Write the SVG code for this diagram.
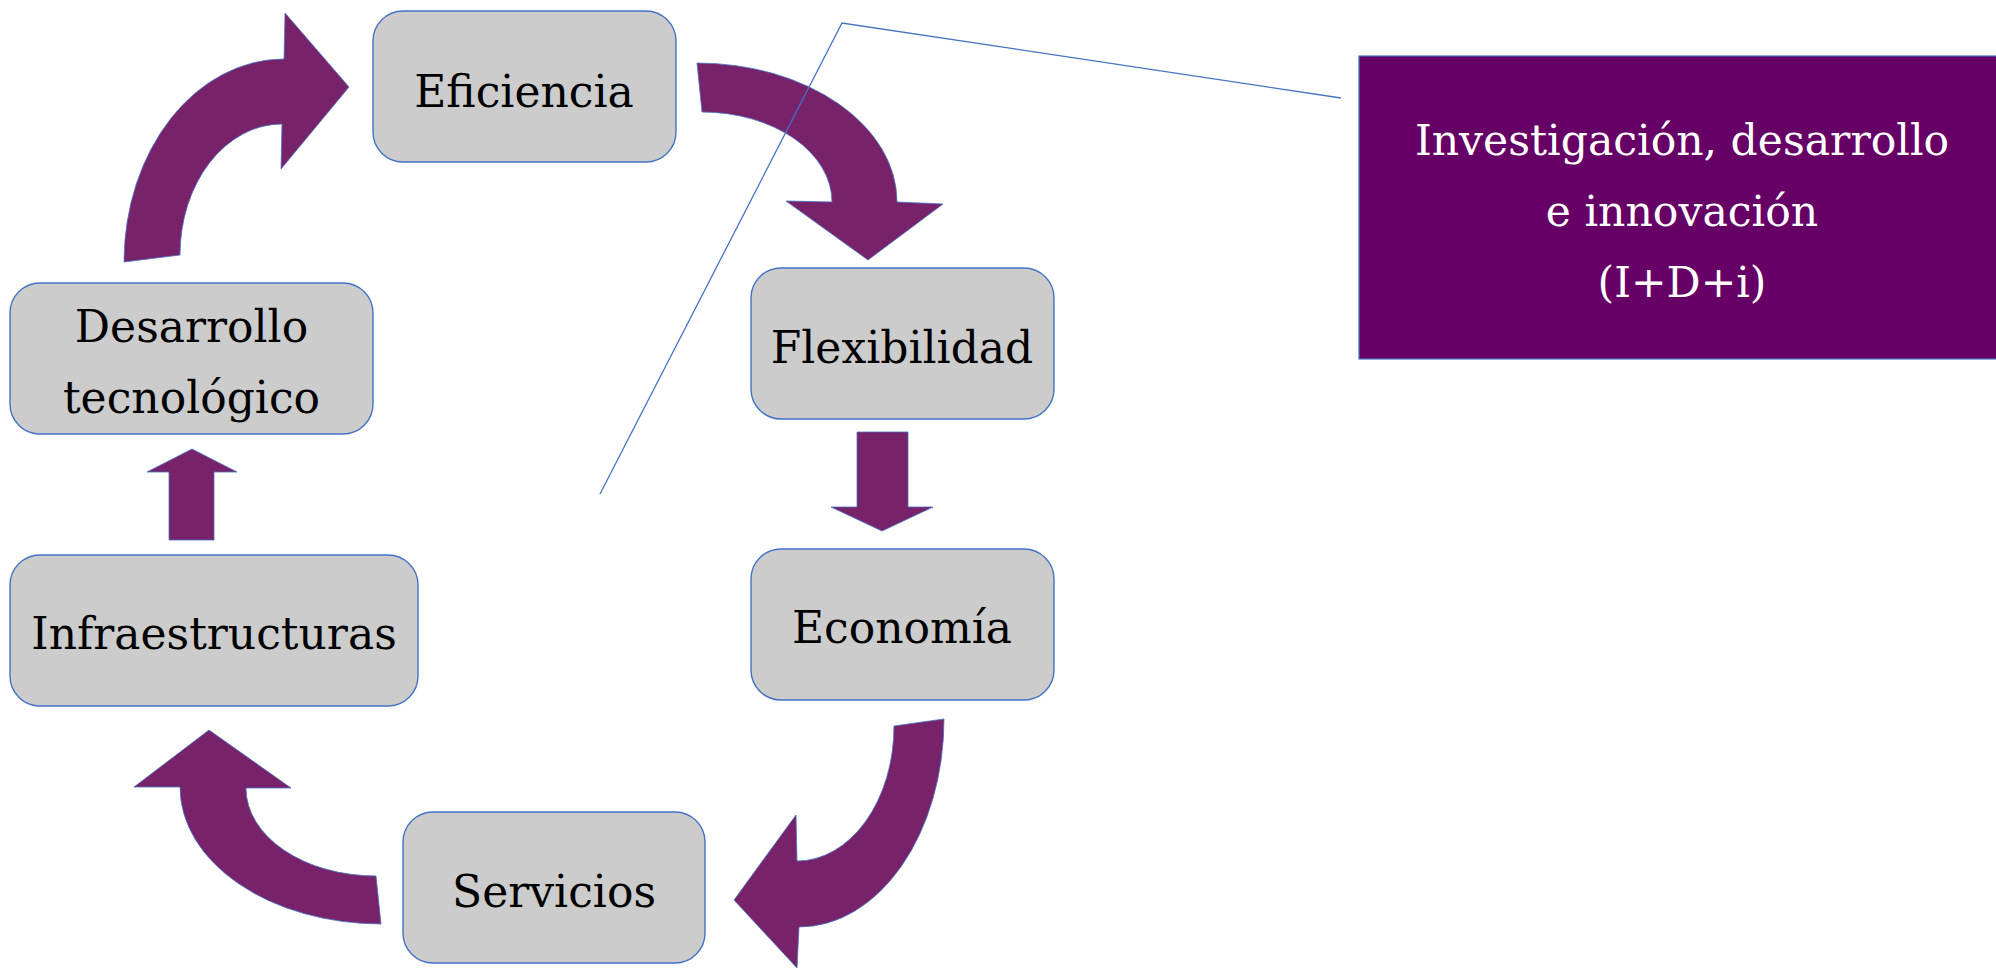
<svg xmlns="http://www.w3.org/2000/svg" width="1996" height="969" viewBox="0 0 1996 969">
<style>
.box{fill:#CCCCCC;stroke:#4472C4;stroke-width:1.4}
.lbl{font-family:"DejaVu Serif",serif;font-size:44px;fill:#000;text-anchor:middle}
.arr{fill:#78226A;stroke:#4472C4;stroke-width:0.8}
.call{fill:#660066;stroke:#4472C4;stroke-width:1.2}
.ctext{font-family:"DejaVu Serif",serif;font-size:42.5px;fill:#FFFFFF;text-anchor:middle}
.line{fill:none;stroke:#4472C4;stroke-width:1.3}
</style>
<rect width="1996" height="969" fill="#FFFFFF"/>
<g id="connectors">
<path class="arr" d="M124,262 A160 203 0 0 1 284,59 L285,13 L349,87 L281,169 L282,124 A102 131 0 0 0 180,255 Z"/>
<path class="arr" d="M697,63 A200 139 0 0 1 897,202 L943,204 L868,260 L786,201 L832,202 A130 90 0 0 0 702,112 Z"/>
<path class="arr" d="M857,432 L908,432 L908,507 L933,507 L882,531 L831,507 L857,507 Z"/>
<path class="arr" d="M944,719 A145 208 0 0 1 799,927 L797,968 L734,900 L796,815 L797,861 A97 135 0 0 0 894,726 Z"/>
<path class="arr" d="M381,924 A201 137 0 0 1 180,787 L134,787 L209,730 L291,788 L246,788 A130 88 0 0 0 376,876 Z"/>
<path class="arr" d="M169,540 L214,540 L214,472 L237,472 L192,449 L147,472 L169,472 Z"/>
<polyline class="line" points="1341,98 842,23 600,494"/>
</g>
<g id="eficiencia">
<rect class="box" x="373" y="11" width="303" height="151" rx="30"/>
<text class="lbl" x="524" y="107">Eficiencia</text>
</g>
<g id="flexibilidad">
<rect class="box" x="751" y="268" width="303" height="151" rx="30"/>
<text class="lbl" x="902" y="363">Flexibilidad</text>
</g>
<g id="economia">
<rect class="box" x="751" y="549" width="303" height="151" rx="30"/>
<text class="lbl" x="902" y="643">Economía</text>
</g>
<g id="servicios">
<rect class="box" x="403" y="812" width="302" height="151" rx="30"/>
<text class="lbl" x="554" y="907">Servicios</text>
</g>
<g id="infraestructuras">
<rect class="box" x="10" y="555" width="408" height="151" rx="30"/>
<text class="lbl" x="214" y="649">Infraestructuras</text>
</g>
<g id="desarrollo">
<rect class="box" x="10" y="283" width="363" height="151" rx="30"/>
<text class="lbl" x="191.5" y="342">Desarrollo</text>
<text class="lbl" x="191.5" y="413">tecnológico</text>
</g>
<g id="idi">
<rect class="call" x="1359" y="56" width="645" height="303"/>
<text class="ctext" x="1682" y="155">Investigación, desarrollo</text>
<text class="ctext" x="1682" y="226">e innovación</text>
<text class="ctext" x="1682" y="297">(I+D+i)</text>
</g>
</svg>
